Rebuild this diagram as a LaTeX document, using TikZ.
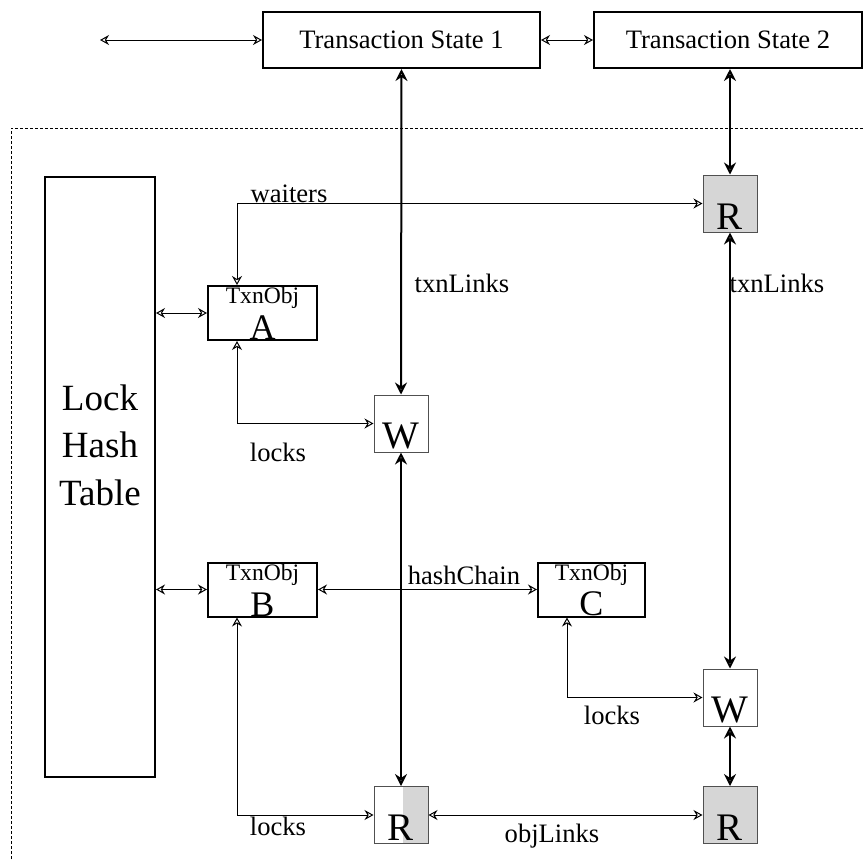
\documentclass[tikz,border=0pt]{standalone}
\usepackage{fontspec}
\setmainfont{Liberation Serif}
\usepackage{tikz}
\usepackage{xcolor}
\usetikzlibrary{arrows.meta,positioning,backgrounds}
\definecolor{CellGray}{HTML}{505050}
\definecolor{ShadeGray}{HTML}{D6D6D6}
\newcommand{\labelsize}{\fontsize{13.3}{16}\selectfont}
\newcommand{\tagsize}{\fontsize{11.8}{14}\selectfont}
\newcommand{\lettersize}{\fontsize{19.5}{22}\selectfont}
\newcommand{\objlettersize}{\fontsize{18}{20}\selectfont}
\newcommand{\tablesize}{\fontsize{18.5}{23.75}\selectfont}
\tikzset{
    % Arrow tips
    thinhead/.tip={Stealth[open,length=4.5pt,width=5pt,inset=1.5pt]},
    thickhead/.tip={Stealth[open,length=6pt,width=6pt,inset=2pt]},
    % Base node style
    basenode/.style={
        draw=black,
        line width=1pt,
        inner sep=0pt,
        align=center,
        font=\labelsize
    },
    % Transaction state box
    statenode/.style={
        basenode,
        minimum width=138.5pt,
        minimum height=28pt
    },
    % Lock hash table box
    tablenode/.style={
        basenode,
        minimum width=55pt,
        minimum height=300pt
    },
    % Object box with tag and letter
    objnode/.style={
        basenode,
        minimum width=54.5pt,
        minimum height=27pt,
        label={[anchor=north,inner sep=1pt,font=\tagsize]north:TxnObj},
        label={[anchor=south,inner sep=0.5pt,font=\objlettersize]south:#1}
    },
    % Lock cell (W or R)
    cellnode/.style={
        basenode,
        draw=CellGray,
        line width=0.5pt,
        minimum width=27pt,
        minimum height=28.5pt,
        label={[anchor=south,inner sep=1.5pt,font=\lettersize]south:#1}
    },
    % Shaded lock cell
    shadednode/.style={
        cellnode=#1,
        fill=ShadeGray
    },
    % Plain text label
    textnode/.style={
        font=\labelsize,
        inner sep=1pt
    },
    % Thin bidirectional arrow
    biarrow/.style={
        thinhead-thinhead,
        line width=0.5pt,
        draw=black
    },
    % Thick bidirectional arrow
    thickarrow/.style={
        thickhead-thickhead,
        line width=1pt,
        draw=black
    }
}

\begin{document}
\begin{tikzpicture}[x=0.5pt, y=-0.5pt]
        \useasboundingbox (0,0) rectangle (864,859);

        % Lock region
        \draw[line width=0.4pt, dash pattern=on 1.5pt off 1pt] (11,859) |- (864,128);

        % Transaction states
        \coordinate (tsfree) at (100,40);
        \node[statenode] (ts1) at (401.5,40) {Transaction State 1};
        \node[statenode, minimum width=134pt] (ts2) at (728,40) {Transaction State 2};
        \draw[biarrow] (tsfree) -- (ts1.west);
        \draw[biarrow] (ts1.east) -- (ts2.west);

        % Hash table
        \node[tablenode] (lht) at (100,477) {};
        \node[font=\tablesize, align=center, inner sep=0pt] (lhtname) at (100,445) {Lock\\Hash\\Table};

        % Objects
        \node[objnode=A] (objA) at (262.5,313) {};
        \node[objnode=B] (objB) at (262.5,589.5) {};
        \node[objnode=C, minimum width=53.5pt] (objC) at (591.5,589.5) {};

        % Lock cells
        \node[cellnode=W] (w1) at (401,423.5) {};
        \node[shadednode=R] (r1) at (730,203.5) {};
        \node[cellnode=W] (w2) at (730,697.5) {};
        \node[cellnode=R] (r2) at (401,815) {};
        \node[shadednode=R] (r3) at (730,815) {};
        \begin{scope}[on background layer]
            \fill[ShadeGray] ([xshift=1pt]r2.north) rectangle (r2.south east);
        \end{scope}

        % Table to objects
        \draw[biarrow] (objA.west -| lht.east) -- (objA.west);
        \draw[biarrow] (objB.west -| lht.east) -- (objB.west);
        \draw[biarrow] (objB.east) -- (objC.west);

        % Object to cell links
        \draw[biarrow] ([xshift=-12.75pt]objA.north) |- (r1.west);
        \draw[biarrow] ([xshift=-12.75pt]objA.south) |- (w1.west);
        \draw[biarrow] ([xshift=-12.75pt]objB.south) |- (r2.west);
        \draw[biarrow] ([xshift=-12.25pt]objC.south) |- (w2.west);
        \draw[biarrow] (r2.east) -- (r3.west);

        % Transaction links
        \draw[thickarrow] (ts1.south) -- (w1.north);
        \draw[thickarrow] (w1.south) -- (r2.north);
        \draw[thickarrow] (r1.north |- ts2.south) -- (r1.north);
        \draw[thickarrow] (r1.south) -- (w2.north);
        \draw[thickarrow] (w2.south) -- (r3.north);

        % Link labels
        \node[textnode] (lblwait) at (289,194) {waiters};
        \node[textnode] (lbltxn1) at (462,283) {txnLinks};
        \node[textnode] (lbltxn2) at (777,283) {txnLinks};
        \node[textnode] (lbllockA) at (278,452) {locks};
        \node[textnode] (lblhash) at (464,575) {hashChain};
        \node[textnode] (lbllockC) at (612,715) {locks};
        \node[textnode] (lbllockB) at (278,826) {locks};
        \node[textnode] (lblobj) at (552,836) {objLinks};
    \end{tikzpicture}
\end{document}
